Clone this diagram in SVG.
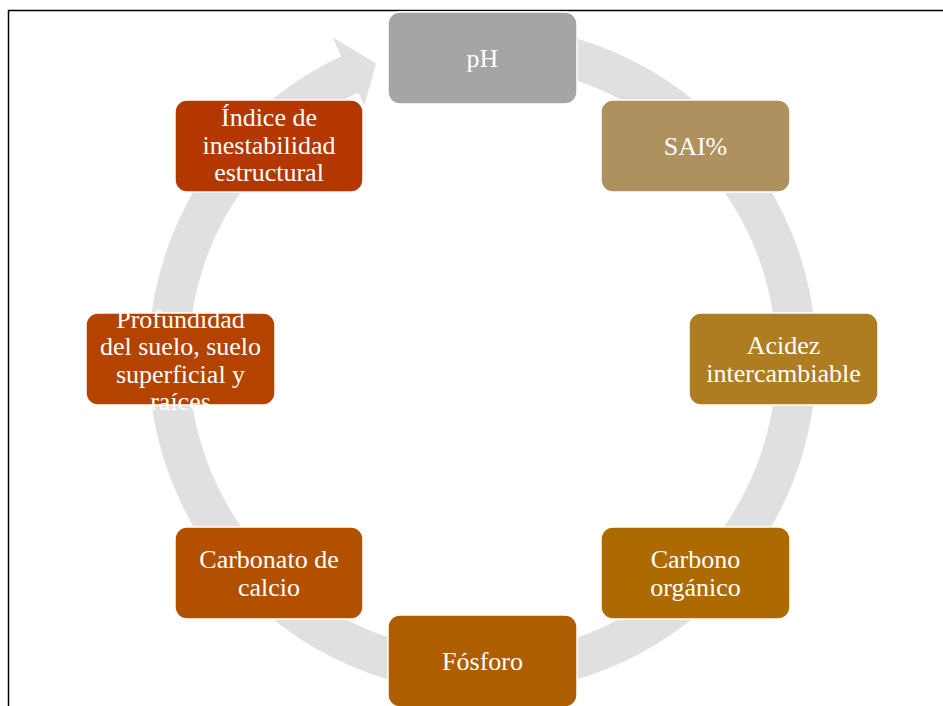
<svg xmlns="http://www.w3.org/2000/svg" width="943" height="706" viewBox="0 0 943 706">
<style>
.box{stroke:#ffffff;stroke-width:1.5}
.t{font-family:"Liberation Serif","Times New Roman",serif;font-size:26px;fill:#ffffff;text-anchor:middle}
</style>
<rect x="0" y="0" width="943" height="706" fill="#ffffff"/>
<path d="M8.5,706 V10.5 H943" fill="none" stroke="#000000" stroke-width="1.5"/>
<g id="connectors">
<path d="M540.5,30.1 A334,334 0 1 1 341.3,56.3 L332.5,37.3 L376.1,63.6 L364.2,105.2 L358.3,92.6 A294,294 0 1 0 533.6,69.5 Z" fill="#e0e0e0"/>
</g>
<g id="node-ph">
<rect class="box" x="388" y="12" width="189" height="92" rx="12" fill="#a5a5a5"/>
<text class="t" x="482.5" y="67">pH</text>
</g>
<g id="node-sai">
<rect class="box" x="601" y="100" width="189" height="92" rx="12" fill="#ae915e"/>
<text class="t" x="695.5" y="155">SAI%</text>
</g>
<g id="node-acidez">
<rect class="box" x="689" y="313" width="189" height="92" rx="12" fill="#ae7d22"/>
<text class="t" x="783.5" y="354">Acidez</text>
<text class="t" x="783.5" y="381.5">intercambiable</text>
</g>
<g id="node-carbono">
<rect class="box" x="601" y="527" width="189" height="92" rx="12" fill="#ac6a00"/>
<text class="t" x="695.5" y="568">Carbono</text>
<text class="t" x="695.5" y="595.5">orgánico</text>
</g>
<g id="node-fosforo">
<rect class="box" x="388" y="615" width="189" height="92" rx="12" fill="#ae5d00"/>
<text class="t" x="482.5" y="670">Fósforo</text>
</g>
<g id="node-carbonato">
<rect class="box" x="175" y="527" width="188" height="92" rx="12" fill="#b35000"/>
<text class="t" x="269" y="568">Carbonato de</text>
<text class="t" x="269" y="595.5">calcio</text>
</g>
<g id="node-profundidad">
<rect class="box" x="86" y="313" width="189" height="92" rx="12" fill="#b44300"/>
<text class="t" x="180.5" y="327.5">Profundidad</text>
<text class="t" x="180.5" y="355">del suelo, suelo</text>
<text class="t" x="180.5" y="382.5">superficial y</text>
<text class="t" x="180.5" y="410">raíces</text>
</g>
<g id="node-indice">
<rect class="box" x="175" y="100" width="188" height="92" rx="12" fill="#b43700"/>
<text class="t" x="269" y="126">Índice de</text>
<text class="t" x="269" y="153.5">inestabilidad</text>
<text class="t" x="269" y="181">estructural</text>
</g>
</svg>
